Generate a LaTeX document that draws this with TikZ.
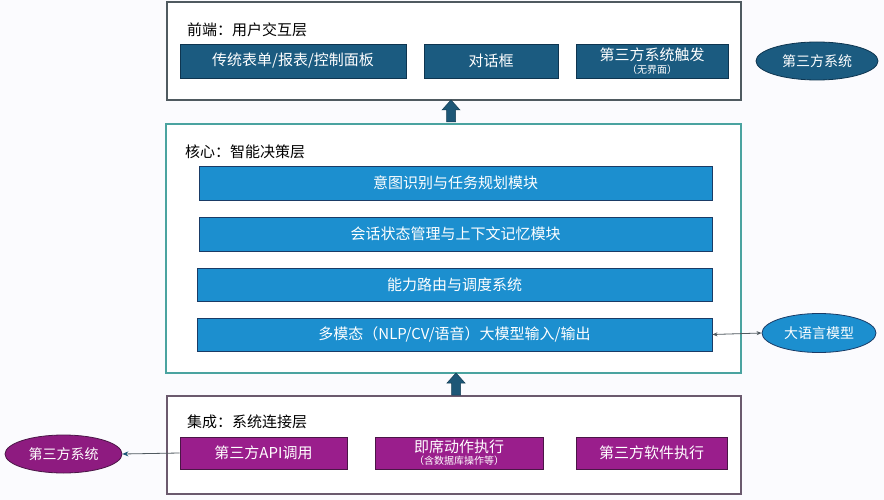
\documentclass[tikz,border=0pt]{standalone}
\usepackage{fontspec}
\setmainfont{Noto Sans CJK SC}
\usetikzlibrary{shapes.geometric,arrows.meta}
\definecolor{bgc}{HTML}{FBFBFE}
\definecolor{topfill}{HTML}{1B5B80}
\definecolor{topdraw}{HTML}{0E3550}
\definecolor{topframe}{HTML}{4F5A60}
\definecolor{midfill}{HTML}{1C8FCF}
\definecolor{middraw}{HTML}{1A3B66}
\definecolor{midframe}{HTML}{4AA3A0}
\definecolor{botfill}{HTML}{9A1E8C}
\definecolor{botdraw}{HTML}{4A1646}
\definecolor{botframe}{HTML}{6B5A6E}
\definecolor{ellfill}{HTML}{8E1B80}
\definecolor{blockarr}{HTML}{1D5777}
\definecolor{linec}{HTML}{505A60}
\tikzset{
  layer/.style={draw, line width=1.3pt, fill=white},
  boxfont/.style={font=\fontsize{15}{17}\selectfont},
  tbox/.style={draw=topdraw, fill=topfill, line width=0.8pt, text=white, boxfont, inner sep=0pt, minimum height=34pt},
  mbox/.style={draw=middraw, fill=midfill, line width=0.8pt, text=white, boxfont, inner sep=0pt, minimum height=34pt},
  bbox/.style={draw=botdraw, fill=botfill, line width=0.8pt, text=white, boxfont, inner sep=0pt, minimum height=32pt},
  lbl/.style={anchor=west, inner sep=0pt, font=\fontsize{15}{17}\selectfont, text=black},
  ell/.style={ellipse, draw, line width=0.8pt, text=white, font=\fontsize{14}{16}\selectfont, inner sep=0pt},
  subfont/.style={font=\fontsize{10}{11}\selectfont},
  conn/.style={draw=linec, line width=0.8pt},
  barrow/.style={fill=blockarr, draw=blockarr!70!black, line width=0.5pt}
}
\begin{document}
\begin{tikzpicture}[x=1pt,y=-1pt]
\fill[bgc] (0,0) rectangle (884,500);
\useasboundingbox (0,0) rectangle (884,500);
% layers
\draw[layer, draw=topframe] (167,2) rectangle (741,100);
\draw[layer, draw=midframe] (166,124) rectangle (741,373);
\draw[layer, draw=botframe] (167,396) rectangle (741,494);
% labels
\node[lbl] (ltop) at (187,30) {前端：用户交互层};
\node[lbl] (lmid) at (185,152) {核心：智能决策层};
\node[lbl] (lbot) at (187,422) {集成：系统连接层};
% top boxes
\node[tbox, minimum width=226pt] (t1) at (293,61) {传统表单/报表/控制面板};
\node[tbox, minimum width=134pt] (t2) at (491,61) {对话框};
\node[tbox, minimum width=152pt, align=center] (t3) at (652,61) {第三方系统触发\\[-4pt]{\fontsize{10}{11}\selectfont （无界面）}};
\node[ell, fill=topfill, draw=topdraw, minimum width=122pt, minimum height=38pt] (e1) at (817,61) {第三方系统};
% mid boxes
\node[mbox, minimum width=513pt] (m1) at (455.5,183) {意图识别与任务规划模块};
\node[mbox, minimum width=513pt] (m2) at (455.5,234) {会话状态管理与上下文记忆模块};
\node[mbox, minimum width=515pt, minimum height=33pt] (m3) at (454.5,284.5) {能力路由与调度系统};
\node[mbox, minimum width=515pt, minimum height=33pt] (m4) at (454.5,334.5) {多模态（NLP/CV/语音）大模型输入/输出};
\node[ell, fill=midfill, draw=middraw, minimum width=114pt, minimum height=39pt] (e2) at (819,333) {大语言模型};
% bottom boxes
\node[bbox, minimum width=167pt] (b1) at (263.5,453) {第三方API调用};
\node[bbox, minimum width=168pt, align=center] (b2) at (459,453) {即席动作执行\\[-5pt]{\fontsize{10}{11}\selectfont （含数据库操作等）}};
\node[bbox, minimum width=151pt] (b3) at (651.5,453) {第三方软件执行};
\node[ell, fill=ellfill, draw=botdraw, minimum width=117pt, minimum height=38pt] (e3) at (63.5,454) {第三方系统};
% connectors
\draw[conn, {Stealth[length=5pt,width=4pt]}-{Stealth[length=5pt,width=4pt]}] (m4.east) -- (e2.west);
\draw[conn, -{Stealth[length=6pt,width=5pt,color=blockarr]}] (b1.west) -- (e3.east);
% block arrows
\coordinate (ta) at (451,100);
\coordinate (ma) at (456,373);
\foreach \c in {ta,ma}{
  \path[barrow] (\c) -- ++(9,10) -- ++(-4.5,0) -- ++(0,12) -- ++(-9,0) -- ++(0,-12) -- ++(-4.5,0) -- cycle;
}
\end{tikzpicture}
\end{document}
